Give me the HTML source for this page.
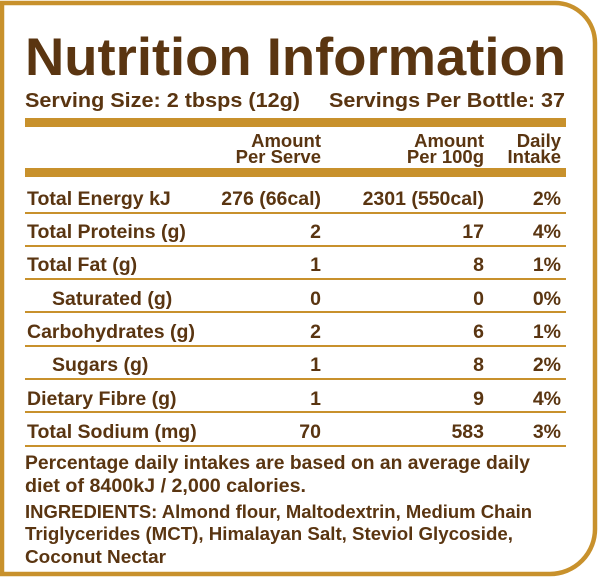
<!DOCTYPE html>
<html><head><meta charset="utf-8"><style>
html,body{margin:0;padding:0;background:#fff}
svg{display:block}
text{font-family:"Liberation Sans",Arial,sans-serif;font-weight:bold;fill:#5a3511}
</style></head><body>
<svg width="600" height="577" viewBox="0 0 600 577" xmlns="http://www.w3.org/2000/svg">
<path d="M2 3 H555 A40 40 0 0 1 595 43 V528 A45 45 0 0 1 550 574 H2 Z" fill="#fff" stroke="#c8912c" stroke-width="4.5"/>
<text x="25" y="75" font-size="53" textLength="541" lengthAdjust="spacingAndGlyphs">Nutrition Information</text>
<text x="25" y="107" font-size="20" textLength="275" lengthAdjust="spacingAndGlyphs">Serving Size: 2 tbsps (12g)</text>
<text x="329" y="107" font-size="20" textLength="236" lengthAdjust="spacingAndGlyphs">Servings Per Bottle: 37</text>
<rect x="25" y="118" width="541" height="9" fill="#c8912c"/>
<g font-size="18.5" text-anchor="end">
<text x="321" y="147">Amount</text><text x="321" y="163">Per Serve</text>
<text x="484" y="147">Amount</text><text x="484" y="163">Per 100g</text>
<text x="561" y="147">Daily</text><text x="561" y="163">Intake</text>
</g>
<rect x="25" y="168" width="541" height="9" fill="#c8912c"/>
<g fill="#c8912c">
<rect x="25" y="212" width="541" height="2"/>
<rect x="25" y="245" width="541" height="2"/>
<rect x="25" y="278" width="541" height="2"/>
<rect x="25" y="311" width="541" height="2"/>
<rect x="25" y="345" width="541" height="2"/>
<rect x="25" y="378" width="541" height="2"/>
<rect x="25" y="411" width="541" height="2"/>
<rect x="25" y="445" width="541" height="2"/>
</g>
<g font-size="19.5">
<text x="27" y="205">Total Energy kJ</text>
<text x="27" y="238">Total Proteins (g)</text>
<text x="27" y="271">Total Fat (g)</text>
<text x="52" y="305">Saturated (g)</text>
<text x="27" y="338">Carbohydrates (g)</text>
<text x="52" y="371">Sugars (g)</text>
<text x="27" y="405">Dietary Fibre (g)</text>
<text x="27" y="438">Total Sodium (mg)</text>
</g>
<g font-size="19.5" text-anchor="end">
<text x="321" y="205">276 (66cal)</text><text x="484" y="205">2301 (550cal)</text><text x="561" y="205">2%</text>
<text x="321" y="238">2</text><text x="484" y="238">17</text><text x="561" y="238">4%</text>
<text x="321" y="271">1</text><text x="484" y="271">8</text><text x="561" y="271">1%</text>
<text x="321" y="305">0</text><text x="484" y="305">0</text><text x="561" y="305">0%</text>
<text x="321" y="338">2</text><text x="484" y="338">6</text><text x="561" y="338">1%</text>
<text x="321" y="371">1</text><text x="484" y="371">8</text><text x="561" y="371">2%</text>
<text x="321" y="405">1</text><text x="484" y="405">9</text><text x="561" y="405">4%</text>
<text x="321" y="438">70</text><text x="484" y="438">583</text><text x="561" y="438">3%</text>
</g>
<g font-size="19">
<text x="25" y="469" textLength="505" lengthAdjust="spacingAndGlyphs">Percentage daily intakes are based on an average daily</text>
<text x="25" y="492" textLength="281" lengthAdjust="spacingAndGlyphs">diet of 8400kJ / 2,000 calories.</text>
<text x="25" y="518" font-size="18" textLength="507" lengthAdjust="spacingAndGlyphs">INGREDIENTS: Almond flour, Maltodextrin, Medium Chain</text>
<text x="25" y="540" font-size="18" textLength="488" lengthAdjust="spacingAndGlyphs">Triglycerides (MCT), Himalayan Salt, Steviol Glycoside,</text>
<text x="25" y="563" font-size="18" textLength="141" lengthAdjust="spacingAndGlyphs">Coconut Nectar</text>
</g>
</svg>
</body></html>
